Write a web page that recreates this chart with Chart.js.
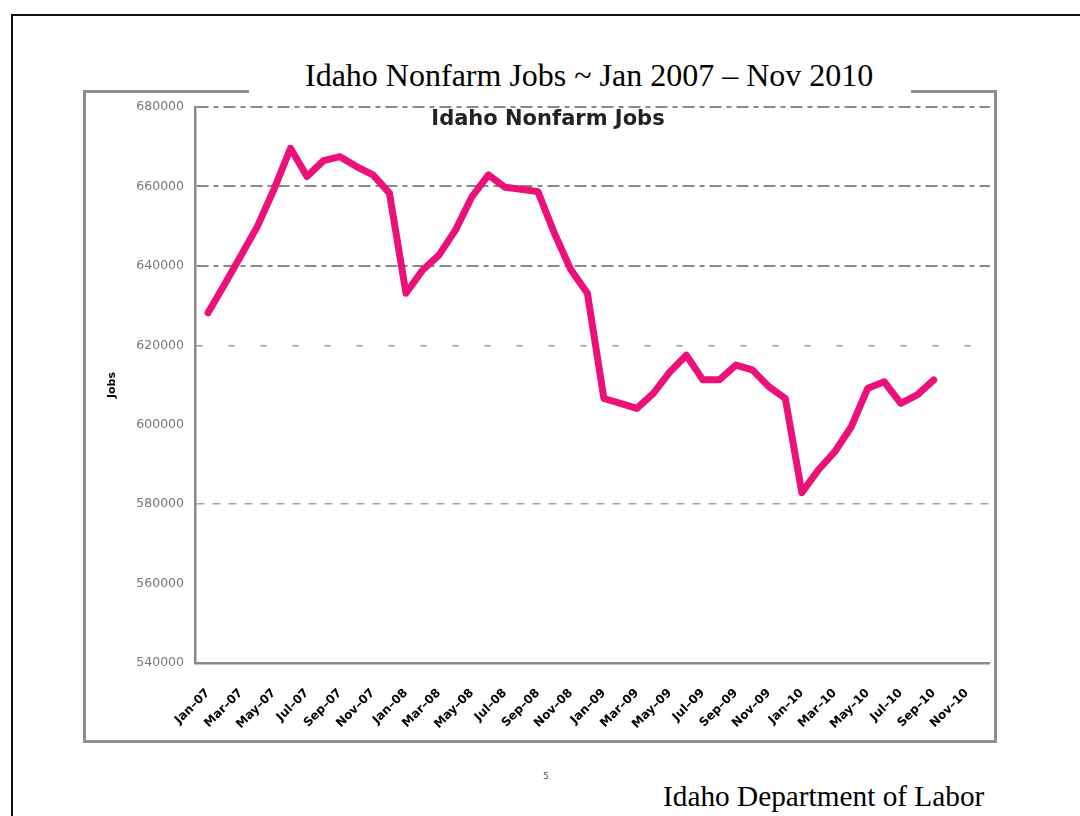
<!DOCTYPE html>
<html>
<head>
<meta charset="utf-8">
<script src="https://cdn.jsdelivr.net/npm/chart.js@4"></script>
<style>
  html, body { margin: 0; padding: 0; background: #fff; }
  body { width: 1080px; height: 816px; position: relative; overflow: hidden; }
  .outer { position: absolute; left: 11px; top: 14px; width: 1200px; height: 900px; border: 2px solid #111; }
  .frame { position: absolute; left: 83px; top: 90px; width: 908px; height: 650px;
           border-left: 3px solid #8e8e8e; border-right: 3px solid #8e8e8e; border-bottom: 3px solid #8e8e8e; }
  .seg { position: absolute; top: 90px; height: 3px; background: #8e8e8e; }
  .title { position: absolute; left: 305px; top: 57px; font-family: "Liberation Serif", serif; font-size: 32px; color: #000; white-space: nowrap; line-height: 36px; }
  .plotTitle { position: absolute; left: 91px; width: 914px; top: 106px; text-align: center; font-family: "DejaVu Sans", sans-serif; font-weight: bold; font-size: 21px; color: #222; z-index: 2; }
  .footer { position: absolute; left: 663px; top: 779px; font-family: "Liberation Serif", serif; font-size: 29.3px; color: #000; white-space: nowrap; line-height: 34px; }
  .page { position: absolute; left: 543px; top: 771px; font-family: "DejaVu Sans", sans-serif; font-size: 9px; color: #555; }
  #wrap { position: absolute; left: 86px; top: 92px; width: 906px; height: 648px; }
</style>
</head>
<body>
<div class="outer"></div>
<div class="frame"></div>
<div class="seg" style="left:83px;width:166px"></div>
<div class="seg" style="left:911px;width:86px"></div>
<div class="title">Idaho Nonfarm Jobs ~ Jan 2007 – Nov 2010</div>
<div class="plotTitle">Idaho Nonfarm Jobs</div>
<div id="wrap"><canvas id="jobsChart"></canvas></div>
<div class="page">5</div>
<div class="footer">Idaho Department of Labor</div>
<script>
const months = [
  "Jan–07", "Feb–07", "Mar–07", "Apr–07", "May–07", "Jun–07", "Jul–07", "Aug–07", "Sep–07", "Oct–07", "Nov–07", "Dec–07",
  "Jan–08", "Feb–08", "Mar–08", "Apr–08", "May–08", "Jun–08", "Jul–08", "Aug–08", "Sep–08", "Oct–08", "Nov–08", "Dec–08",
  "Jan–09", "Feb–09", "Mar–09", "Apr–09", "May–09", "Jun–09", "Jul–09", "Aug–09", "Sep–09", "Oct–09", "Nov–09", "Dec–09",
  "Jan–10", "Feb–10", "Mar–10", "Apr–10", "May–10", "Jun–10", "Jul–10", "Aug–10", "Sep–10", "Oct–10", "Nov–10"
];

const jobs = [
  628200, 635300, 642600, 650000, 659300, 669600, 662500, 666500, 667500, 665000, 662900, 658300,
  633100, 638900, 642700, 649000, 657400, 662900, 659800, 659300, 658700, 648200, 639000, 633100,
  606600, 605400, 604100, 607900, 613300, 617500, 611300, 611300, 615000, 613800, 609600, 606600,
  582900, 588600, 593200, 599500, 609200, 610800, 605400, 607500, 611300
];

const yTicks = [540000, 560000, 580000, 600000, 620000, 640000, 660000, 680000];

// gridline look per tick value
const dashDot = [12, 5, 5, 5];
function gridStyle(value) {
  if (value >= 640000) return { color: "#8a8a8a", width: 2, dash: dashDot };
  if (value === 620000) return { color: "#9a9a9a", width: 1.5, dash: [6, 26] };
  if (value === 580000) return { color: "#a8a8a8", width: 1.5, dash: [8, 8] };
  return { color: "rgba(0,0,0,0)", width: 1, dash: [] };
}

const ctx = document.getElementById("jobsChart");
new Chart(ctx, {
  type: "line",
  data: {
    datasets: [{
      label: "Jobs",
      data: jobs.map((v, i) => ({ x: i, y: v })),
      borderColor: "#ec1079",
      borderWidth: 7,
      pointRadius: 0,
      tension: 0,
      borderJoinStyle: "round",
      borderCapStyle: "round",
      fill: false,
    }],
  },
  options: {
    responsive: true,
    maintainAspectRatio: false,
    animation: false,
    layout: { padding: { top: 15, right: 2, left: 0, bottom: 0 } },
    plugins: { legend: { display: false }, title: { display: false }, tooltip: { enabled: false } },
    scales: {
      x: {
        type: "linear",
        min: -0.79,
        max: 47.4,
        grid: { display: false },
        border: { display: true, color: "#8a8a8a", width: 2.5 },
        afterBuildTicks: (axis) => {
          axis.ticks = months.map((m, i) => ({ value: i })).filter((t) => t.value % 2 === 0);
        },
        afterFit: (axis) => { axis.height = 77; },
        ticks: {
          autoSkip: false,
          minRotation: 45,
          maxRotation: 45,
          padding: 15,
          color: "#000",
          font: { family: "DejaVu Sans", weight: "bold", size: 12 },
          callback: (v) => months[v],
        },
      },
      y: {
        min: 540000,
        max: 680000,
        afterBuildTicks: (axis) => { axis.ticks = yTicks.map((v) => ({ value: v })); },
        afterFit: (axis) => {
          axis.width = 109;
          axis.paddingTop = 0;
          axis.paddingBottom = 0;
        },
        grid: {
          drawTicks: false,
          color: (c) => c.tick ? gridStyle(c.tick.value).color : "#8a8a8a",
          lineWidth: (c) => c.tick ? gridStyle(c.tick.value).width : 1,
        },
        border: {
          display: true,
          color: "#8a8a8a",
          width: 2.5,
          dash: (c) => c.tick ? gridStyle(c.tick.value).dash : [],
        },
        ticks: {
          padding: 11,
          color: "#777",
          font: { family: "DejaVu Sans", size: 12.5 },
          callback: (v) => String(v),
        },
        title: {
          display: true,
          text: "Jobs",
          color: "#000",
          padding: { top: 20, bottom: 0 },
          font: { family: "DejaVu Sans", weight: "bold", size: 11 },
        },
      },
    },
  },
});
</script>
</body>
</html>
